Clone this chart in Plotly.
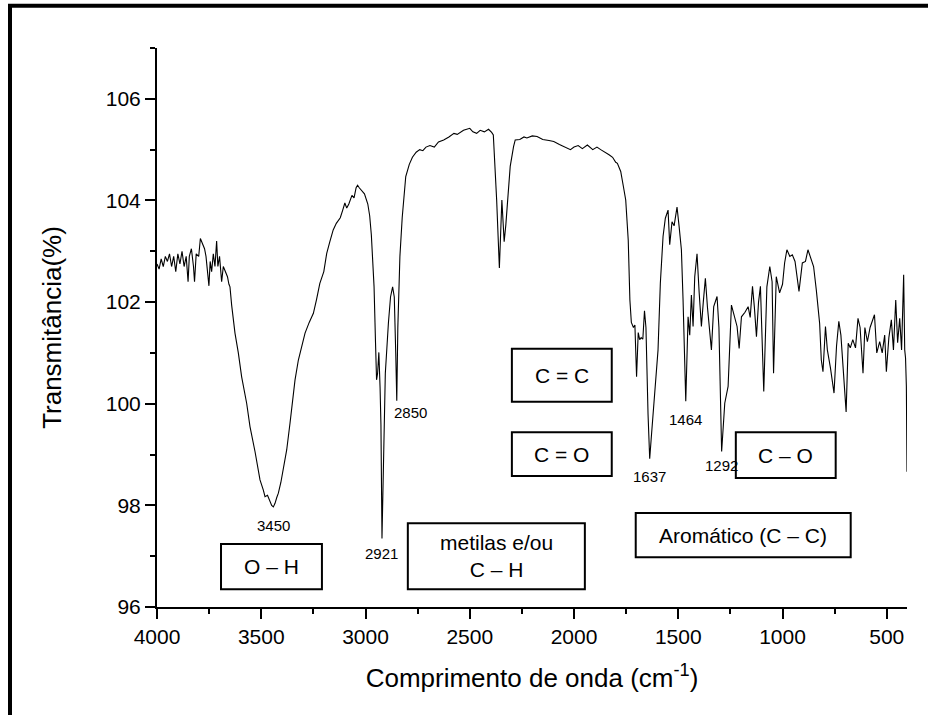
import plotly.graph_objects as go

# Wavenumber (cm-1) and transmittance (%)
wavenumber = [
    4000, 3990, 3980, 3970, 3960, 3950, 3940, 3930, 3920, 3910, 3900, 3890, 3880, 3870, 3860,
    3851, 3845, 3835, 3825, 3820, 3812, 3800, 3792, 3786, 3780, 3772, 3765, 3756, 3751, 3745,
    3738, 3730, 3722, 3714, 3708, 3700, 3690, 3682, 3672, 3662, 3655, 3650,
    3642, 3626, 3610, 3594, 3570, 3554, 3530, 3506, 3490, 3482, 3470, 3458, 3450, 3442, 3434,
    3426, 3418, 3406, 3394, 3378, 3362, 3350, 3338, 3322, 3305, 3290, 3270, 3250, 3235, 3219,
    3200, 3186, 3171, 3155, 3140, 3121, 3110, 3099, 3090, 3080, 3065, 3055, 3045, 3038, 3030,
    3020, 3005, 2989, 2980, 2972, 2959, 2952, 2947, 2942, 2936, 2930, 2926, 2921, 2915, 2905,
    2890, 2880, 2870, 2862, 2855, 2850, 2845, 2835, 2824, 2807, 2790, 2775, 2757, 2740, 2725,
    2710, 2691, 2670, 2650, 2625, 2600, 2576, 2560, 2547, 2530, 2500, 2485, 2467, 2450, 2430,
    2410, 2395, 2387, 2371, 2358, 2346, 2335, 2327, 2306, 2290, 2282, 2260, 2240, 2226, 2200,
    2177, 2150, 2120, 2097, 2070, 2040, 2017, 2000, 1980, 1960, 1936, 1910, 1890, 1872, 1850,
    1832, 1815, 1800, 1792, 1776, 1763, 1752, 1740, 1732, 1725, 1715, 1708, 1700, 1692, 1685,
    1678, 1670, 1662, 1655, 1645, 1637, 1630, 1621, 1615, 1597, 1586, 1573, 1562, 1549, 1541,
    1530, 1520, 1506, 1496, 1485, 1477, 1464, 1453, 1445, 1437, 1429, 1421, 1410, 1400, 1389,
    1380, 1370, 1360, 1341, 1330, 1314, 1305, 1292, 1277, 1261, 1245, 1235, 1218, 1208, 1197,
    1180, 1165, 1155, 1144, 1135, 1125, 1115, 1106, 1090, 1075, 1061, 1050, 1043, 1030, 1014,
    1000, 990, 979, 965, 953, 940, 921, 905, 890, 878, 865, 851, 838, 822, 814,
    806, 794, 785, 770, 753, 741, 730, 720, 710, 695, 685, 675, 663, 650, 638,
    628, 614, 605, 593, 580, 559, 548, 534, 522, 510, 502, 490, 478, 468, 457,
    448, 438, 429, 419, 414, 410, 406, 403,
]
transmittance = [
    102.75, 102.65, 102.85, 102.70, 102.90, 102.80, 102.95, 102.70, 102.90, 102.60, 102.95, 102.75, 103.00, 102.70, 102.90,
    102.40, 102.90, 103.05, 102.70, 102.40, 102.95, 102.90, 103.25, 103.20, 103.15, 103.05, 102.90, 102.50, 102.32, 102.80,
    102.60, 102.95, 102.70, 103.20, 102.70, 102.90, 102.40, 102.70, 102.60, 102.50, 102.35, 102.30,
    101.94, 101.39, 101.00, 100.53, 100.01, 99.55, 99.06, 98.50, 98.30, 98.17, 98.20, 98.10, 98.00, 97.97, 98.04,
    98.15, 98.24, 98.45, 98.70, 99.09, 99.62, 100.00, 100.47, 100.86, 101.15, 101.39, 101.60, 101.78, 102.05, 102.37,
    102.60, 102.96, 103.19, 103.42, 103.55, 103.66, 103.80, 103.95, 103.85, 103.93, 104.10, 104.05, 104.25, 104.30, 104.25,
    104.20, 104.13, 103.93, 103.70, 103.32, 102.30, 101.20, 100.47, 100.60, 101.01, 100.30, 99.59, 97.35, 98.80, 100.60,
    101.60, 102.10, 102.30, 102.10, 101.00, 100.06, 101.50, 102.90, 103.66, 104.47, 104.71, 104.85, 104.95, 105.00, 104.98,
    105.05, 105.08, 105.05, 105.15, 105.19, 105.25, 105.32, 105.30, 105.34, 105.38, 105.42, 105.35, 105.32, 105.38, 105.35,
    105.40, 105.34, 105.29, 104.01, 102.67, 104.01, 103.19, 103.52, 104.67, 105.06, 105.19, 105.20, 105.25, 105.23, 105.27,
    105.26, 105.20, 105.18, 105.16, 105.10, 105.05, 105.00, 105.05, 105.08, 105.02, 105.09, 105.00, 105.05, 105.00, 104.95,
    104.90, 104.85, 104.75, 104.73, 104.57, 104.27, 104.01, 103.22, 102.04, 101.60, 101.50, 101.55, 100.53, 101.40, 101.26,
    101.30, 101.27, 101.83, 101.50, 99.80, 98.92, 99.30, 99.81, 99.95, 101.06, 102.37, 103.29, 103.65, 103.81, 103.13,
    103.58, 103.50, 103.87, 103.49, 103.03, 102.04, 100.05, 101.71, 101.35, 102.14, 101.52, 102.50, 102.95, 102.20, 101.52,
    102.00, 102.47, 101.90, 101.06, 101.91, 102.11, 101.50, 99.06, 100.01, 100.34, 101.94, 101.80, 101.52, 101.09, 101.71,
    101.80, 101.91, 101.70, 102.31, 101.90, 101.32, 102.00, 102.31, 100.24, 102.30, 102.70, 102.40, 100.60, 102.50, 102.18,
    102.35, 102.77, 103.03, 102.90, 102.93, 102.80, 102.21, 102.77, 102.80, 103.03, 102.85, 102.70, 102.24, 101.58, 100.86,
    100.63, 101.52, 101.06, 100.70, 100.21, 101.13, 101.62, 101.35, 100.73, 99.84, 101.19, 101.10, 101.26, 101.10, 101.68,
    101.50, 100.60, 101.50, 101.22, 101.50, 101.75, 101.00, 101.22, 101.00, 101.35, 100.63, 101.30, 101.65, 101.06, 102.04,
    101.20, 101.68, 101.06, 102.54, 101.06, 100.90, 100.34, 98.66,
]

# Peak labels
peak_labels = ["3450", "2921", "2850", "1637", "1464", "1292"]
peak_label_x = [3440, 2921, 2782, 1637, 1464, 1295]
peak_label_y = [97.61, 97.06, 99.82, 98.56, 99.68, 98.78]

# Group boxes: text, x0, x1, y0, y1
box_texts = ["O – H", "metilas e/ou<br>C – H", "Aromático (C – C)", "C = C", "C = O", "C – O"]
box_x0 = [3693, 2797, 1704, 2298, 2298, 1224]
box_x1 = [3209, 1948, 673, 1819, 1819, 745]
box_y0 = [96.35, 96.35, 96.98, 100.04, 98.58, 98.54]
box_y1 = [97.24, 97.65, 97.85, 101.08, 99.44, 99.44]

x_ticks = [4000, 3500, 3000, 2500, 2000, 1500, 1000, 500]
y_ticks = [96, 98, 100, 102, 104, 106]

FONT = "Arial, 'Liberation Sans', sans-serif"

fig = go.Figure()
fig.add_trace(go.Scatter(x=wavenumber, y=transmittance, mode="lines",
                         line=dict(color="black", width=1.1), showlegend=False,
                         hoverinfo="skip"))

shapes = []
annotations = []
for t, x0, x1, y0, y1 in zip(box_texts, box_x0, box_x1, box_y0, box_y1):
    shapes.append(dict(type="rect", xref="x", yref="y", x0=x0, x1=x1, y0=y0, y1=y1,
                       line=dict(color="black", width=2), fillcolor="white", layer="above"))
    annotations.append(dict(x=(x0 + x1) / 2, y=(y0 + y1) / 2, text=t, showarrow=False,
                            xanchor="center", yanchor="middle",
                            font=dict(family=FONT, size=21, color="black")))
for t, x, y in zip(peak_labels, peak_label_x, peak_label_y):
    annotations.append(dict(x=x, y=y, text=t, showarrow=False, xanchor="center",
                            yanchor="middle", font=dict(family=FONT, size=15, color="black")))

# outer frame of the figure
shapes.append(dict(type="rect", xref="paper", yref="paper", x0=-0.196, x1=1.2,
                   y0=-0.4, y1=1.0758, line=dict(color="black", width=4),
                   fillcolor="rgba(0,0,0,0)", layer="above"))

axis_common = dict(showline=True, linecolor="black", linewidth=2, ticks="outside",
                   ticklen=10, tickwidth=2, tickcolor="black", showgrid=False,
                   zeroline=False, mirror=False,
                   tickfont=dict(family=FONT, size=21, color="black"))

fig.update_layout(
    width=928, height=715,
    margin=dict(l=157, r=21, t=48, b=108, autoexpand=False),
    paper_bgcolor="white", plot_bgcolor="white",
    font=dict(family=FONT, color="black"),
    xaxis=dict(range=[4000, 403], tickvals=x_ticks,
               ticktext=[str(v) for v in x_ticks],
               minor=dict(ticks="outside", ticklen=5, tickwidth=2, tickcolor="black", dtick=250, tick0=0),
               title=dict(text="Comprimento de onda (cm<sup>-1</sup>)",
                          font=dict(family=FONT, size=26, color="black"), standoff=22),
               **axis_common),
    yaxis=dict(range=[96, 107], tickvals=y_ticks,
               ticktext=[str(v) for v in y_ticks],
               minor=dict(ticks="outside", ticklen=5, tickwidth=2, tickcolor="black", dtick=1, tick0=96),
               title=dict(text="Transmitância(%)",
                          font=dict(family=FONT, size=26, color="black"), standoff=37),
               **axis_common),
    shapes=shapes,
    annotations=annotations,
)

# remove the browser's default page margin so the figure sits at the window origin
fig.write_html("out.html", config={"displayModeBar": False},
               post_script="document.body.style.margin='0';document.body.style.overflow='hidden';")
